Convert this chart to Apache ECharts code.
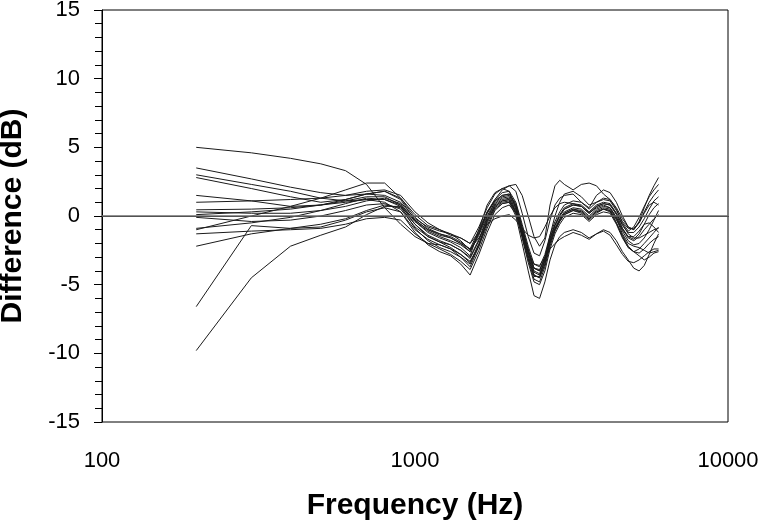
<!DOCTYPE html>
<html>
<head>
<meta charset="utf-8">
<script src="https://cdn.jsdelivr.net/npm/echarts@6/dist/echarts.min.js"></script>
<style>
  html, body { margin: 0; padding: 0; background: #fff; }
  #chart { width: 764px; height: 530px; }
</style>
</head>
<body>
<div id="chart"></div>
<script>
// frequency grid (Hz)
const freqs = [200, 300, 400, 500, 600, 700, 800, 900, 1000,
  1100, 1200, 1300, 1400, 1500, 1600, 1700, 1800, 1900, 2000,
  2100, 2200, 2300, 2400, 2500, 2600, 2700, 2800, 2900, 3000,
  3200, 3400, 3600, 3800, 4000, 4200, 4400, 4600, 4800, 5000,
  5200, 5400, 5600, 5800, 6000]

// difference curves (dB), one per measurement
const curve1 = [5.0, 4.6, 4.2, 3.8, 3.3, 2.3, 0.6, -0.6, -1.5, -2.0, -2.1, -2.4, -3.0, -3.7, -2.2, -0.3, 0.7, 1.1, 1.2, 0.3, -1.5, -3.2, -4.6, -4.8, -3.7, -2.2, -1.1, -0.4, 0.1, 0.4, 0.2, -0.3, 0.2, 0.5, 0.3, -0.5, -1.4, -2.2, -2.6, -2.7, -2.4, -2.0, -1.7, -1.5]
const curve2 = [3.5, 2.7, 2.1, 1.7, 1.5, 1.6, 1.5, 1.0, -0.2, -0.8, -1.1, -1.3, -1.8, -2.5, -1.2, 0.3, 1.1, 1.5, 1.6, 0.9, -0.8, -2.4, -3.8, -4.0, -3.0, -1.6, -0.7, 0.0, 0.5, 0.8, 0.7, 0.2, 0.7, 0.9, 0.8, 0.2, -0.7, -1.2, -1.2, -0.8, -0.2, 0.5, 1.1, 1.4]
const curve3 = [3.0, 2.3, 1.8, 1.3, 1.1, 1.2, 1.2, 0.7, -0.9, -1.8, -2.3, -2.6, -3.0, -3.5, -2.1, -0.5, 0.6, 1.0, 1.1, 0.2, -1.6, -3.4, -4.8, -5.0, -4.0, -2.4, -1.3, -0.6, -0.1, 0.2, 0.1, -0.4, 0.1, 0.3, 0.2, -0.6, -1.6, -2.3, -2.6, -2.4, -2.0, -1.6, -1.2, -0.8]
const curve4 = [2.8, 2.0, 1.4, 1.0, 1.2, 1.6, 1.8, 1.2, -0.3, -1.0, -1.3, -1.5, -1.9, -2.4, -1.0, 0.3, 1.2, 1.7, 1.8, 1.0, -0.6, -2.2, -3.5, -3.7, -2.8, -1.4, -0.4, 0.3, 0.8, 1.1, 1.0, 0.5, 1.0, 1.3, 1.2, 0.5, -0.5, -1.1, -0.8, -0.1, 0.7, 1.4, 1.9, 2.3]
const curve5 = [1.5, 1.1, 0.7, 0.8, 1.1, 1.4, 1.4, 0.8, -0.6, -1.5, -1.9, -2.1, -2.5, -3.1, -1.8, -0.2, 0.8, 1.2, 1.3, 0.5, -1.3, -2.9, -4.3, -4.5, -3.5, -2.0, -1.0, -0.3, 0.2, 0.5, 0.4, -0.1, 0.4, 0.6, 0.5, -0.2, -1.3, -2.0, -2.2, -2.3, -2.5, -2.7, -2.6, -2.5]
const curve6 = [0.45, 0.5, 0.6, 0.8, 1.0, 1.2, 1.0, 0.3, -1.2, -2.1, -2.6, -2.9, -3.5, -4.3, -2.8, -1.2, 0.1, 0.6, 0.8, 0.2, -1.2, -2.6, -3.5, -3.6, -3.0, -2.4, -2.0, -1.7, -1.5, -1.2, -1.4, -1.7, -1.3, -1.0, -1.2, -1.8, -2.6, -3.2, -3.8, -4.0, -3.6, -2.8, -2.0, -1.3]
const curve7 = [0.1, 0.3, 0.5, 0.8, 1.2, 1.6, 1.8, 1.3, 0.1, -0.7, -1.0, -1.3, -1.6, -2.0, -0.8, 0.6, 1.6, 2.0, 2.2, 1.8, 0.2, -1.5, -2.7, -2.9, -1.8, -0.3, 0.8, 1.3, 1.5, 1.6, 1.0, 0.6, 1.5, 1.9, 1.7, 1.0, 0.0, -0.8, -1.0, -0.5, 0.3, 1.0, 1.5, 1.9]
const curve8 = [-0.1, -0.4, -0.3, 0.0, 0.4, 0.8, 0.9, 0.5, -0.8, -1.5, -1.9, -2.3, -2.8, -3.4, -2.0, -0.4, 0.7, 1.1, 1.2, 0.4, -1.3, -2.9, -4.3, -4.5, -3.5, -2.0, -1.0, -0.4, 0.1, 0.4, 0.3, -0.2, 0.3, 0.5, 0.4, -0.3, -1.0, -1.5, -1.5, -1.1, -0.6, -0.5, -0.8, -1.2]
const curve9 = [-0.9, -0.5, -0.1, 0.4, 0.9, 1.3, 1.2, 0.8, -0.3, -1.0, -1.4, -1.6, -2.0, -2.4, -1.6, -0.6, -0.2, 0.0, 0.1, -0.3, -0.9, -1.4, -1.6, -1.5, -0.8, 0.0, 0.6, 0.9, 1.0, 0.9, 0.7, 0.2, 0.6, 0.8, 0.6, -0.1, -0.9, -1.6, -1.8, -1.5, -1.0, -0.6, -0.2, 0.1]
const curve10 = [-1.0, 0.0, 0.7, 1.3, 1.9, 2.4, 2.4, 1.3, -0.1, -0.9, -1.3, -1.6, -2.0, -2.6, -1.3, 0.2, 1.1, 1.5, 1.6, 0.8, -0.9, -2.5, -3.8, -4.0, -3.0, -1.6, -0.6, 0.1, 0.6, 0.9, 0.8, 0.3, 0.8, 1.0, 0.9, 0.2, -0.6, -1.3, -1.6, -1.6, -1.4, -1.2, -1.0, -0.9]
const curve11 = [-1.3, -1.1, -1.0, -0.9, -0.6, -0.2, -0.1, -0.3, -1.3, -2.0, -2.4, -2.8, -3.3, -3.9, -2.5, -0.9, 0.4, 0.9, 1.0, 0.0, -2.0, -4.0, -5.8, -6.0, -4.8, -3.2, -2.1, -1.5, -1.2, -1.0, -1.2, -1.6, -1.3, -1.1, -1.4, -2.1, -2.8, -3.3, -3.4, -3.2, -2.9, -2.6, -2.4, -2.4]
const curve12 = [-2.2, -1.3, -0.9, -0.6, -0.2, 0.4, 0.8, 0.6, -0.6, -1.4, -1.8, -2.1, -2.5, -3.0, -1.7, -0.1, 0.9, 1.3, 1.4, 0.6, -1.1, -2.7, -4.1, -4.3, -3.3, -1.9, -0.9, -0.2, 0.3, 0.6, 0.5, 0.0, 0.5, 0.7, 0.6, -0.1, -1.1, -1.8, -2.1, -2.0, -1.6, -1.0, -0.3, 0.4]
const curve13 = [-6.6, -0.7, -0.9, -0.8, -0.3, 0.3, 0.6, 0.3, -1.0, -1.7, -2.1, -2.4, -2.8, -3.3, -2.2, -0.7, 0.5, 0.9, 1.0, 0.3, -1.2, -2.6, -3.8, -3.9, -3.1, -1.8, -0.9, -0.3, 0.2, 0.5, 0.3, -0.2, 0.3, 0.5, 0.4, -0.5, -1.5, -2.3, -2.6, -2.9, -3.2, -3.0, -2.7, -2.6]
const curve14 = [-9.8, -4.5, -2.2, -1.4, -0.8, 0.1, 0.7, 0.7, -0.4, -1.1, -1.5, -1.8, -2.1, -2.6, -1.4, 0.0, 1.0, 1.4, 1.5, 0.7, -1.0, -2.6, -4.0, -4.2, -3.2, -1.7, -0.7, 0.0, 0.5, 0.8, 0.7, 0.2, 0.7, 0.9, 0.8, 0.1, -0.9, -1.5, -1.7, -1.3, -0.6, 0.1, 0.6, 0.9]
const curve15 = [1.0, 1.1, 1.2, 1.3, 1.5, 1.8, 1.9, 1.5, 0.3, -0.5, -1.0, -1.4, -1.6, -2.0, -1.2, 0.2, 1.2, 1.9, 2.2, 2.3, 1.5, 0.0, -1.5, -2.2, -1.6, 0.8, 2.2, 2.6, 2.3, 1.9, 2.3, 2.4, 2.2, 1.6, 1.2, 0.6, -0.2, -0.8, -1.0, -0.4, 0.6, 1.5, 2.2, 2.8]
const curve16 = [0.3, 0.2, 0.2, 0.4, 0.7, 1.1, 1.3, 0.9, -0.4, -1.2, -1.6, -1.9, -2.3, -2.9, -1.0, 0.8, 1.7, 2.0, 1.8, 0.6, -1.4, -3.1, -4.4, -4.4, -3.2, -1.4, 0.0, 1.0, 1.6, 1.8, 1.4, 0.8, 1.0, 1.2, 1.1, 0.4, -0.4, -0.9, -0.9, -0.5, 0.2, 0.8, 1.0, 0.8]

const curves = [curve1, curve2, curve3, curve4, curve5, curve6, curve7, curve8,
  curve9, curve10, curve11, curve12, curve13, curve14, curve15, curve16]

// axis ticks
const xTicks = [100, 1000, 10000]
const yMin = -15
const yMax = 15
const yStep = 5

curves.forEach((c, i) => {
  if (c.length !== freqs.length) throw new Error('curve' + (i + 1) + ' has ' + c.length + ' values')
})

const chart = echarts.init(document.getElementById('chart'))

const series = curves.map((vals, i) => ({
  name: 'c' + (i + 1),
  type: 'line',
  symbol: 'none',
  silent: true,
  data: vals.map((v, k) => [freqs[k], v]),
  lineStyle: { color: '#1a1a1a', width: 1 },
  z: 3,
}))

// horizontal line at 0 dB
series[0].markLine = {
  silent: true,
  symbol: 'none',
  label: { show: false },
  lineStyle: { color: '#6e6e6e', width: 1.5, type: 'solid' },
  data: [{ yAxis: 0 }],
}

const font = 'Liberation Sans'

chart.setOption({
  animation: false,
  grid: {
    left: 102,
    right: 36,
    top: 10,
    bottom: 108,
    show: true,
    borderColor: '#000',
    borderWidth: 1,
    outerBoundsMode: 'none',
  },
  xAxis: {
    type: 'log',
    logBase: 10,
    min: xTicks[0],
    max: xTicks[xTicks.length - 1],
    name: 'Frequency (Hz)',
    nameLocation: 'middle',
    nameGap: 69,
    nameTextStyle: { fontFamily: font, fontWeight: 'bold', fontSize: 30, color: '#000' },
    axisLine: { lineStyle: { color: '#000', width: 1 } },
    axisTick: { show: false },
    splitLine: { show: false },
    axisLabel: {
      margin: 28,
      fontFamily: font,
      fontSize: 22,
      color: '#000',
      formatter: v => String(Math.round(v)),
    },
  },
  yAxis: {
    type: 'value',
    min: yMin,
    max: yMax,
    interval: yStep,
    name: 'Difference (dB)',
    nameLocation: 'middle',
    nameGap: 74,
    nameTextStyle: { fontFamily: font, fontWeight: 'bold', fontSize: 30, color: '#000' },
    axisLine: { show: true, lineStyle: { color: '#000', width: 1 } },
    axisTick: { show: true, length: 8, lineStyle: { color: '#000' } },
    minorTick: { show: true, splitNumber: 5, length: 7, lineStyle: { color: '#000' } },
    splitLine: { show: false },
    axisLabel: { margin: 22, fontFamily: font, fontSize: 22, color: '#000' },
  },
  series: series,
})
</script>
</body>
</html>
